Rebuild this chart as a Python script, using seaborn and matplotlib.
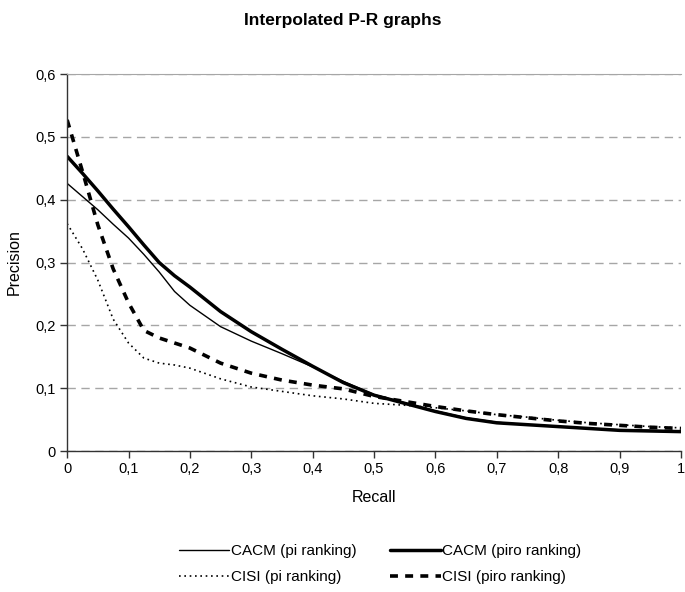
import pandas as pd
import matplotlib
matplotlib.use("Agg")
import matplotlib.pyplot as plt
import seaborn as sns
from matplotlib.ticker import FuncFormatter

# Dados (precisão interpolada por nível de recall)
recall = [0, 0.025, 0.05, 0.075, 0.1, 0.125, 0.15, 0.175, 0.2, 0.25, 0.3, 0.35,
          0.4, 0.45, 0.5, 0.55, 0.6, 0.65, 0.7, 0.75, 0.8, 0.85, 0.9, 0.95, 1.0]

cacm_pi = [0.426, 0.405, 0.384, 0.361, 0.339, 0.313, 0.285, 0.254, 0.232, 0.198, 0.175, 0.155,
           0.134, 0.111, 0.090, 0.077, 0.064, 0.053, 0.046, 0.042, 0.039, 0.036, 0.034, 0.033, 0.032]
cacm_piro = [0.469, 0.442, 0.414, 0.385, 0.357, 0.328, 0.300, 0.279, 0.261, 0.222, 0.190, 0.162,
             0.135, 0.109, 0.089, 0.076, 0.063, 0.052, 0.045, 0.042, 0.039, 0.036, 0.033, 0.032, 0.031]
cisi_pi = [0.362, 0.322, 0.272, 0.210, 0.172, 0.148, 0.140, 0.137, 0.132, 0.115, 0.102, 0.095,
           0.088, 0.083, 0.076, 0.073, 0.069, 0.064, 0.058, 0.054, 0.049, 0.045, 0.042, 0.039, 0.037]
cisi_piro = [0.527, 0.445, 0.360, 0.290, 0.236, 0.192, 0.180, 0.172, 0.164, 0.140, 0.124, 0.113,
             0.105, 0.099, 0.087, 0.079, 0.071, 0.064, 0.058, 0.053, 0.048, 0.044, 0.041, 0.038, 0.036]

series_names = ["CACM (pi ranking)", "CACM (piro ranking)", "CISI (pi ranking)", "CISI (piro ranking)"]

df = pd.DataFrame({"Recall": recall, series_names[0]: cacm_pi, series_names[1]: cacm_piro,
                   series_names[2]: cisi_pi, series_names[3]: cisi_piro})

sns.set_style("white")
plt.rcParams["font.family"] = ["Liberation Sans", "DejaVu Sans"]
plt.rcParams["text.color"] = "black"
plt.rcParams["axes.labelcolor"] = "black"
plt.rcParams["xtick.color"] = "black"
plt.rcParams["ytick.color"] = "black"

fig = plt.figure(figsize=(6.85, 5.92), dpi=100)
ax = fig.add_axes([0.098, 0.238, 0.896, 0.637])

estilos = {
    series_names[0]: dict(linewidth=1.0, linestyle="-"),
    series_names[1]: dict(linewidth=2.5, linestyle="-"),
    series_names[2]: dict(linewidth=1.2, linestyle=(0, (1, 2.2))),
    series_names[3]: dict(linewidth=2.6, linestyle=(0, (2.2, 2.0))),
}

for nome in series_names:
    sns.lineplot(data=df, x="Recall", y=nome, ax=ax, color="black", label=nome, **estilos[nome])

ax.set_xlim(0, 1)
ax.set_ylim(0, 0.6)
ax.set_xticks([i / 10 for i in range(11)])
ax.set_yticks([i / 10 for i in range(7)])

fmt = FuncFormatter(lambda v, p: ("%g" % round(v, 2)).replace(".", ","))
ax.xaxis.set_major_formatter(fmt)
ax.yaxis.set_major_formatter(fmt)

ax.yaxis.grid(True, color="#a6a6a6", linestyle=(0, (6, 4)), linewidth=1.0)
ax.xaxis.grid(False)
ax.set_axisbelow(True)

for lado in ["left", "bottom"]:
    ax.spines[lado].set_color("#333333")
    ax.spines[lado].set_linewidth(1.0)
ax.spines["top"].set_color("#a6a6a6")
ax.spines["right"].set_visible(False)

ax.tick_params(axis="both", direction="out", length=5, width=1, color="#333333",
               labelsize=10.5, bottom=True, left=True, pad=3)

ax.set_xlabel("Recall", fontsize=11.5, labelpad=10)
ax.set_ylabel("Precision", fontsize=11.5, labelpad=10)
fig.suptitle("Interpolated P-R graphs", fontsize=12.5, fontweight="bold", x=0.5, y=0.978)

# ordem da legenda: linha 1 = CACM, linha 2 = CISI
handles, labels = ax.get_legend_handles_labels()
ordem = [0, 2, 1, 3]
ax.legend([handles[i] for i in ordem], [labels[i] for i in ordem],
          loc="center", bbox_to_anchor=(0.555, 0.047), bbox_transform=fig.transFigure,
          ncol=2, frameon=False, fontsize=11, handlelength=3.3, handletextpad=0.1,
          columnspacing=2.2, labelspacing=0.75)

plt.savefig("out.png", dpi=100)
plt.close()
